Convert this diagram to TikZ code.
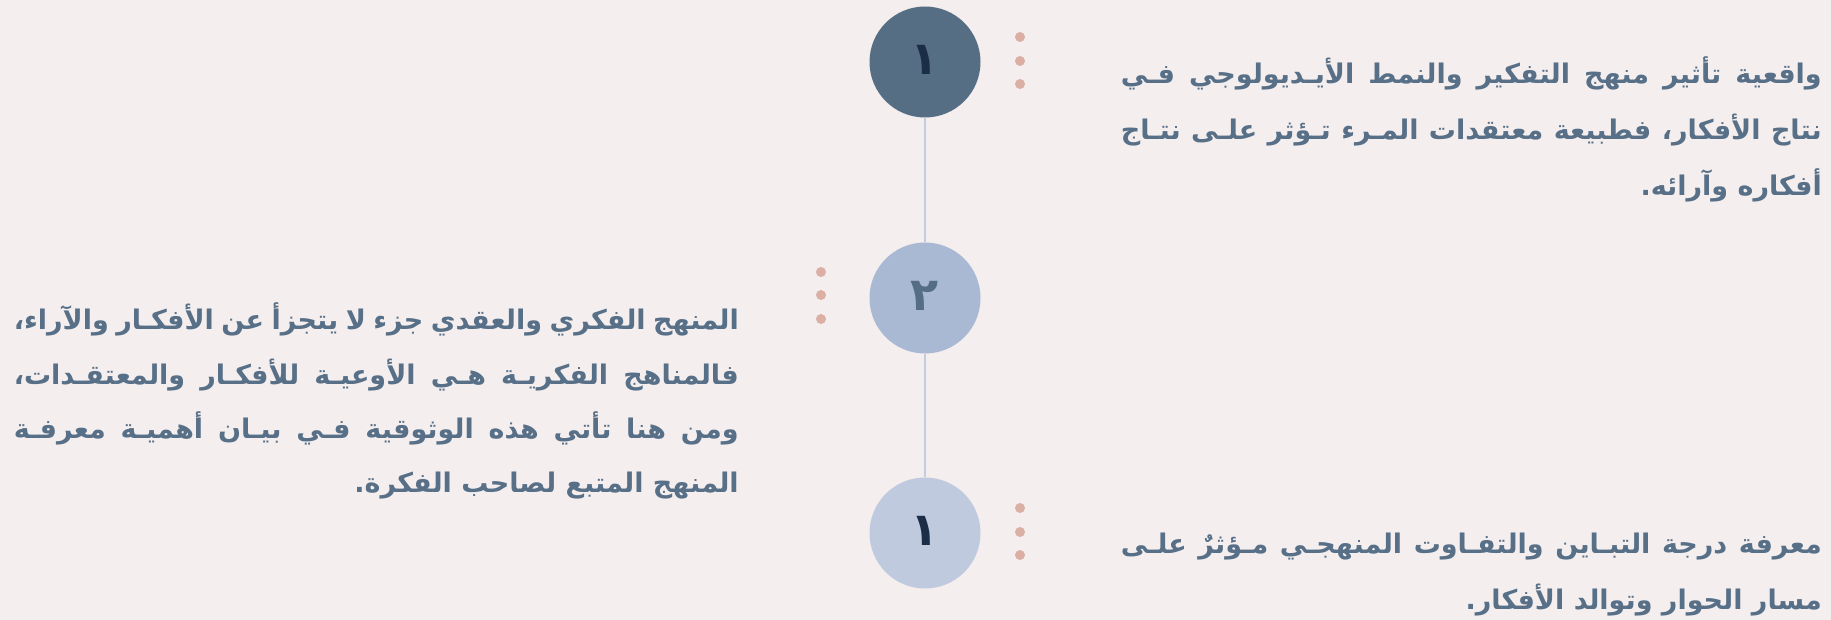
\documentclass[tikz,border=0pt]{standalone}
\usepackage{fontspec}
\TeXXeTstate=1
\newfontfamily\arabicfont[Script=Arabic]{DejaVu Sans}
\definecolor{bgc}{HTML}{F4EEEE}
\definecolor{cone}{HTML}{566E84}
\definecolor{ctwo}{HTML}{A9B8D3}
\definecolor{cthree}{HTML}{BFCADF}
\definecolor{numdark}{HTML}{1B2D47}
\definecolor{linec}{HTML}{C3CBDF}
\definecolor{dotc}{HTML}{DBAFA3}
\definecolor{txtc}{HTML}{576F87}
\begin{document}
\begin{tikzpicture}[x=1pt,y=-1pt,
  numc/.style={circle, minimum size=111pt, inner sep=0pt,
    font=\arabicfont\bfseries\fontsize{46}{46}\selectfont},
  dotn/.style={circle, fill=dotc, minimum size=10pt, inner sep=0pt},
  txt/.style={anchor=base east, text=txtc, inner sep=0pt,
    font=\arabicfont\bfseries\fontsize{27}{32}\selectfont},
  conn/.style={draw=linec, line width=1.5pt}]
\fill[bgc] (0,0) rectangle (1831,620);
\useasboundingbox (0,0) rectangle (1831,620);
% circles
\node[numc, fill=cone, text=numdark] (n1) at (925,62) {\raisebox{5pt}{\beginR ١\endR}};
\node[numc, fill=ctwo, text=cone] (n2) at (925,298) {\raisebox{5pt}{\beginR ٢\endR}};
\node[numc, fill=cthree, text=numdark] (n3) at (925,533) {\raisebox{5pt}{\beginR ١\endR}};
\draw[conn] (n1) -- (n2);
\draw[conn] (n2) -- (n3);
% dots
\node[dotn] (d1a) at (1020,37) {};
\node[dotn] (d1b) at (1020,61) {};
\node[dotn] (d1c) at (1020,84) {};
\node[dotn] (d2a) at (821,272) {};
\node[dotn] (d2b) at (821,295) {};
\node[dotn] (d2c) at (821,319) {};
\node[dotn] (d3a) at (1020,508) {};
\node[dotn] (d3b) at (1020,532) {};
\node[dotn] (d3c) at (1020,555) {};
% block 1
\node[txt] (t1a) at (1822,84) {\hbox to 701pt{\beginR واقعية تأثير منهج التفكير والنمط الأيـديولوجي فـي\endR}};
\node[txt] (t1b) at (1822,140) {\hbox to 701pt{\beginR نتاج الأفكار، فطبيعة معتقدات المـرء تـؤثر علـى نتـاج\endR}};
\node[txt] (t1c) at (1822,196) {\beginR أفكاره وآرائه.\endR};
% block 2
\node[txt] (t2a) at (739,330) {\hbox to 725pt{\beginR المنهج الفكري والعقدي جزء لا يتجزأ عن الأفكـار والآراء،\endR}};
\node[txt] (t2b) at (739,384) {\hbox to 725pt{\beginR فالمناهج الفكريـة هـي الأوعيـة للأفكـار والمعتقـدات،\endR}};
\node[txt] (t2c) at (739,438) {\hbox to 725pt{\beginR ومن هنا تأتي هذه الوثوقية فـي بيـان أهميـة معرفـة\endR}};
\node[txt] (t2d) at (739,492) {\beginR المنهج المتبع لصاحب الفكرة.\endR};
% block 3
\node[txt] (t3a) at (1822,553) {\hbox to 701pt{\beginR معرفة درجة التبـاين والتفـاوت المنهجـي مـؤثرٌ علـى\endR}};
\node[txt] (t3b) at (1822,609) {\beginR مسار الحوار وتوالد الأفكار.\endR};
\end{tikzpicture}
\end{document}
